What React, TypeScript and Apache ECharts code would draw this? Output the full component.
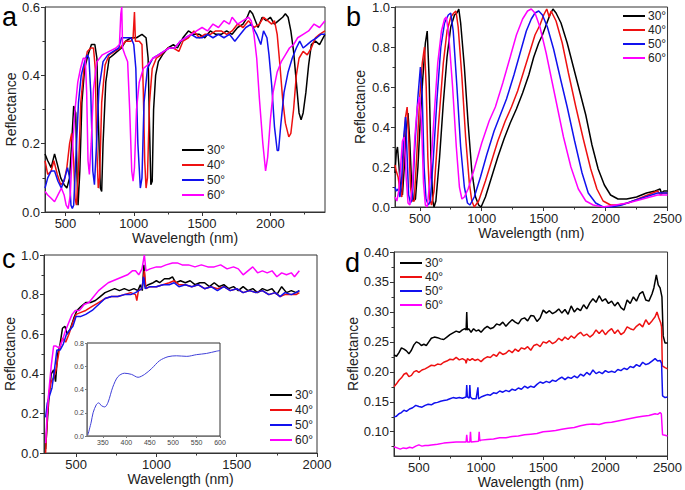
import React, { useEffect, useRef } from "react";
import * as echarts from "echarts";

const NAMES = ["30°", "40°", "50°", "60°"];
const COLORS = ["#000000", "#ee1111", "#1111ee", "#ff00ff"];

// Panel a (x: wavelength nm, y: reflectance)
const a30 = [[350,0.17],[370,0.15],[395,0.13],[420,0.17],[440,0.14],[465,0.10],[490,0.08],[510,0.07],[530,0.10],[545,0.20],[560,0.31],[575,0.29],[585,0.10],[592,0.02],[605,0.12],[620,0.32],[640,0.42],[665,0.46],[690,0.49],[715,0.49],[730,0.45],[742,0.25],[755,0.07],[765,0.06],[775,0.2],[795,0.38],[820,0.45],[850,0.46],[880,0.47],[910,0.48],[940,0.50],[980,0.51],[1020,0.51],[1060,0.52],[1090,0.51],[1105,0.45],[1115,0.25],[1125,0.08],[1135,0.09],[1145,0.30],[1160,0.40],[1180,0.44],[1210,0.46],[1250,0.48],[1290,0.49],[1320,0.48],[1360,0.51],[1400,0.53],[1440,0.52],[1480,0.52],[1520,0.51],[1560,0.53],[1600,0.52],[1640,0.52],[1680,0.53],[1720,0.52],[1760,0.54],[1800,0.55],[1830,0.57],[1850,0.59],[1870,0.58],[1890,0.56],[1910,0.54],[1940,0.57],[1970,0.56],[2000,0.57],[2030,0.55],[2060,0.56],[2090,0.57],[2110,0.58],[2130,0.57],[2150,0.53],[2170,0.47],[2190,0.38],[2210,0.29],[2225,0.27],[2240,0.29],[2260,0.35],[2280,0.43],[2300,0.49],[2330,0.50],[2360,0.49],[2400,0.52]];
const a40 = [[350,0.15],[370,0.11],[395,0.12],[415,0.15],[440,0.11],[465,0.08],[490,0.09],[510,0.13],[530,0.20],[545,0.23],[560,0.15],[570,0.04],[580,0.02],[595,0.12],[612,0.32],[635,0.42],[660,0.47],[685,0.48],[705,0.48],[718,0.42],[728,0.2],[740,0.07],[750,0.1],[765,0.32],[790,0.43],[820,0.46],[860,0.47],[900,0.48],[940,0.50],[980,0.50],[995,0.51],[1005,0.585],[1012,0.50],[1040,0.50],[1060,0.49],[1070,0.35],[1080,0.15],[1090,0.07],[1100,0.10],[1115,0.32],[1135,0.42],[1165,0.45],[1200,0.46],[1250,0.48],[1290,0.48],[1330,0.47],[1360,0.50],[1400,0.51],[1440,0.53],[1480,0.51],[1520,0.52],[1560,0.52],[1600,0.53],[1640,0.53],[1680,0.52],[1720,0.53],[1760,0.55],[1800,0.54],[1840,0.56],[1880,0.54],[1920,0.55],[1950,0.57],[1980,0.56],[2010,0.55],[2030,0.56],[2050,0.52],[2070,0.43],[2090,0.33],[2110,0.26],[2135,0.22],[2150,0.23],[2170,0.30],[2190,0.40],[2210,0.45],[2240,0.47],[2270,0.46],[2300,0.48],[2330,0.51],[2360,0.52],[2400,0.53]];
const a50 = [[350,0.07],[370,0.10],[395,0.12],[420,0.12],[445,0.09],[470,0.07],[495,0.10],[515,0.13],[530,0.10],[540,0.02],[550,0.01],[560,0.02],[575,0.15],[595,0.32],[615,0.40],[640,0.44],[660,0.46],[672,0.45],[685,0.35],[700,0.12],[712,0.08],[725,0.18],[745,0.36],[775,0.44],[810,0.46],[850,0.47],[890,0.48],[910,0.51],[940,0.51],[980,0.51],[1000,0.49],[1015,0.42],[1030,0.2],[1048,0.07],[1060,0.10],[1075,0.32],[1100,0.42],[1140,0.45],[1180,0.46],[1220,0.47],[1260,0.48],[1300,0.48],[1340,0.50],[1380,0.51],[1420,0.52],[1460,0.51],[1500,0.51],[1540,0.52],[1580,0.51],[1620,0.52],[1660,0.51],[1700,0.52],[1740,0.50],[1780,0.52],[1820,0.54],[1860,0.55],[1900,0.52],[1930,0.49],[1950,0.53],[1975,0.51],[1990,0.46],[2010,0.37],[2030,0.25],[2050,0.18],[2060,0.18],[2075,0.25],[2100,0.35],[2130,0.41],[2160,0.45],[2190,0.48],[2215,0.50],[2240,0.48],[2270,0.49],[2300,0.50],[2340,0.51],[2370,0.52],[2400,0.52]];
const a60 = [[350,0.06],[370,0.05],[395,0.04],[420,0.03],[445,0.05],[470,0.07],[490,0.05],[505,0.02],[520,0.01],[535,0.05],[550,0.18],[570,0.30],[590,0.38],[610,0.42],[630,0.45],[645,0.45],[655,0.35],[665,0.15],[675,0.11],[688,0.2],[705,0.36],[730,0.44],[770,0.46],[820,0.47],[870,0.48],[895,0.49],[905,0.58],[912,0.60],[918,0.48],[935,0.46],[955,0.44],[970,0.30],[985,0.12],[995,0.09],[1005,0.13],[1020,0.30],[1040,0.38],[1070,0.42],[1100,0.43],[1140,0.45],[1180,0.46],[1220,0.47],[1260,0.48],[1300,0.48],[1340,0.50],[1380,0.51],[1420,0.52],[1460,0.53],[1500,0.54],[1540,0.53],[1580,0.55],[1620,0.54],[1660,0.56],[1700,0.55],[1720,0.57],[1760,0.55],[1800,0.56],[1840,0.57],[1860,0.56],[1880,0.52],[1900,0.45],[1920,0.33],[1945,0.20],[1965,0.12],[1980,0.16],[2000,0.27],[2020,0.35],[2050,0.41],[2080,0.44],[2110,0.46],[2140,0.48],[2170,0.49],[2200,0.51],[2240,0.52],[2280,0.53],[2320,0.55],[2360,0.54],[2400,0.56]];

// Panel b
const b30 = [[300,0.17],[310,0.27],[320,0.30],[330,0.22],[345,0.10],[360,0.06],[375,0.2],[390,0.38],[405,0.47],[420,0.32],[435,0.1],[450,0.03],[465,0.04],[485,0.2],[505,0.45],[525,0.65],[545,0.82],[560,0.88],[575,0.65],[590,0.25],[605,0.03],[615,0.0],[630,0.03],[660,0.25],[690,0.52],[720,0.75],[750,0.9],[780,0.96],[800,0.97],[815,0.99],[830,0.92],[860,0.7],[890,0.42],[920,0.18],[950,0.05],[975,0.01],[995,0.0],[1030,0.05],[1080,0.15],[1130,0.25],[1180,0.34],[1230,0.42],[1280,0.49],[1330,0.57],[1380,0.66],[1420,0.75],[1460,0.82],[1490,0.86],[1520,0.91],[1550,0.96],[1575,0.99],[1600,0.97],[1640,0.92],[1690,0.82],[1740,0.70],[1790,0.58],[1840,0.46],[1890,0.31],[1940,0.19],[1990,0.11],[2040,0.06],[2100,0.04],[2170,0.04],[2250,0.05],[2330,0.07],[2400,0.08],[2440,0.09],[2450,0.07],[2470,0.08],[2500,0.08]];
const b40 = [[300,0.21],[310,0.18],[325,0.15],[340,0.08],[355,0.05],[370,0.3],[385,0.45],[398,0.50],[410,0.35],[425,0.1],[440,0.03],[455,0.03],[475,0.25],[500,0.55],[520,0.72],[538,0.80],[552,0.6],[565,0.25],[580,0.04],[595,0.01],[615,0.08],[650,0.4],[690,0.72],[720,0.88],[750,0.95],[775,0.97],[792,0.98],[810,0.9],[840,0.65],[870,0.35],[900,0.12],[920,0.03],[940,0.0],[975,0.03],[1030,0.13],[1080,0.23],[1130,0.33],[1190,0.43],[1240,0.50],[1290,0.58],[1340,0.68],[1390,0.78],[1430,0.86],[1470,0.91],[1500,0.96],[1525,0.99],[1545,0.95],[1560,0.98],[1600,0.93],[1650,0.82],[1700,0.67],[1760,0.5],[1820,0.34],[1880,0.19],[1930,0.09],[1980,0.03],[2040,0.01],[2100,0.01],[2180,0.02],[2260,0.04],[2340,0.06],[2420,0.08],[2445,0.06],[2460,0.07],[2500,0.07]];
const b50 = [[300,0.10],[310,0.08],[325,0.09],[340,0.05],[355,0.15],[370,0.35],[385,0.45],[395,0.3],[410,0.06],[425,0.02],[440,0.04],[460,0.3],[485,0.55],[505,0.70],[520,0.55],[535,0.2],[550,0.04],[570,0.01],[585,0.03],[610,0.25],[640,0.55],[670,0.8],[700,0.92],[730,0.96],[750,0.97],[770,0.88],[800,0.6],[830,0.3],[860,0.1],[885,0.02],[905,0.01],[940,0.05],[990,0.15],[1040,0.26],[1100,0.38],[1150,0.46],[1200,0.54],[1260,0.66],[1310,0.77],[1360,0.88],[1400,0.94],[1430,0.97],[1460,0.98],[1490,0.96],[1530,0.9],[1580,0.79],[1640,0.63],[1690,0.5],[1750,0.33],[1810,0.17],[1860,0.07],[1920,0.02],[1980,0.0],[2050,0.0],[2130,0.01],[2220,0.03],[2320,0.05],[2420,0.07],[2500,0.07]];
const b60 = [[300,0.05],[315,0.03],[330,0.08],[345,0.2],[360,0.33],[375,0.35],[390,0.15],[405,0.02],[420,0.01],[440,0.1],[460,0.35],[480,0.5],[500,0.55],[515,0.4],[530,0.12],[545,0.01],[560,0.0],[585,0.15],[615,0.45],[645,0.72],[675,0.88],[700,0.94],[715,0.95],[735,0.85],[765,0.6],[795,0.3],[820,0.1],[840,0.04],[860,0.05],[890,0.09],[940,0.19],[1000,0.32],[1060,0.43],[1110,0.5],[1170,0.62],[1230,0.75],[1280,0.86],[1330,0.94],[1370,0.98],[1400,0.99],[1430,0.97],[1470,0.9],[1520,0.77],[1570,0.62],[1610,0.5],[1660,0.35],[1720,0.2],[1780,0.09],[1840,0.03],[1900,0.01],[1980,0.0],[2080,0.01],[2180,0.02],[2300,0.04],[2420,0.06],[2500,0.06]];

// Panel c
const c30 = [[310,0.02],[320,0.15],[330,0.27],[345,0.40],[360,0.42],[372,0.36],[385,0.50],[400,0.55],[415,0.63],[430,0.64],[445,0.60],[465,0.63],[485,0.68],[505,0.72],[530,0.74],[560,0.76],[590,0.76],[620,0.77],[650,0.79],[680,0.81],[710,0.82],[740,0.83],[770,0.82],[800,0.83],[830,0.82],[860,0.83],[885,0.82],[900,0.85],[912,0.82],[922,0.95],[930,0.84],[950,0.85],[980,0.86],[1000,0.87],[1020,0.86],[1050,0.88],[1080,0.88],[1100,0.89],[1120,0.86],[1150,0.87],[1180,0.86],[1210,0.87],[1240,0.85],[1270,0.86],[1300,0.86],[1330,0.84],[1360,0.86],[1390,0.84],[1420,0.85],[1450,0.83],[1480,0.84],[1510,0.82],[1540,0.84],[1570,0.82],[1600,0.83],[1630,0.81],[1660,0.83],[1690,0.82],[1720,0.83],[1750,0.80],[1780,0.84],[1810,0.81],[1840,0.82],[1870,0.81],[1890,0.82]];
const c40 = [[310,0.0],[320,0.18],[330,0.30],[345,0.36],[360,0.38],[375,0.42],[395,0.52],[415,0.58],[435,0.56],[455,0.60],[480,0.66],[500,0.70],[530,0.71],[560,0.72],[600,0.74],[640,0.76],[680,0.78],[720,0.79],[760,0.79],[800,0.80],[840,0.81],[870,0.80],[878,0.77],[888,0.82],[910,0.83],[925,0.92],[935,0.83],[960,0.84],[1000,0.84],[1040,0.85],[1080,0.86],[1110,0.87],[1140,0.85],[1180,0.85],[1220,0.84],[1260,0.85],[1300,0.83],[1340,0.84],[1380,0.83],[1420,0.84],[1460,0.82],[1500,0.83],[1540,0.81],[1580,0.82],[1620,0.81],[1660,0.82],[1700,0.80],[1740,0.81],[1770,0.79],[1800,0.80],[1840,0.80],[1870,0.80],[1890,0.81]];
const c50 = [[310,0.18],[320,0.25],[335,0.29],[350,0.33],[365,0.42],[380,0.52],[400,0.52],[420,0.55],[440,0.60],[460,0.62],[480,0.64],[500,0.69],[530,0.69],[560,0.70],[600,0.72],[640,0.75],[680,0.78],[720,0.79],[760,0.79],[800,0.80],[840,0.80],[870,0.81],[890,0.82],[910,0.83],[920,0.89],[930,0.83],[960,0.84],[1000,0.84],[1040,0.85],[1080,0.85],[1110,0.86],[1140,0.84],[1180,0.85],[1220,0.84],[1260,0.85],[1300,0.83],[1340,0.84],[1380,0.82],[1420,0.84],[1460,0.82],[1500,0.83],[1540,0.81],[1580,0.82],[1620,0.81],[1660,0.82],[1700,0.80],[1740,0.81],[1770,0.79],[1800,0.81],[1840,0.80],[1870,0.81],[1890,0.82]];
const c60 = [[310,0.05],[320,0.20],[330,0.31],[345,0.44],[360,0.54],[375,0.54],[395,0.53],[415,0.57],[435,0.62],[455,0.66],[475,0.70],[495,0.72],[520,0.72],[550,0.75],[580,0.76],[610,0.79],[640,0.82],[670,0.84],[700,0.86],[730,0.87],[760,0.88],[790,0.89],[820,0.90],[850,0.92],[870,0.92],[890,0.90],[910,0.93],[925,1.0],[935,0.92],[960,0.93],[1000,0.94],[1030,0.94],[1060,0.95],[1100,0.96],[1130,0.96],[1160,0.95],[1200,0.95],[1240,0.94],[1280,0.95],[1320,0.94],[1360,0.94],[1400,0.95],[1440,0.93],[1480,0.94],[1510,0.93],[1540,0.90],[1570,0.92],[1600,0.94],[1630,0.91],[1660,0.92],[1690,0.91],[1720,0.92],[1750,0.89],[1780,0.91],[1810,0.90],[1840,0.91],[1860,0.89],[1890,0.92]];

// Inset of panel c
const inset = [[318,0.01],[325,0.12],[329,0.20],[336,0.27],[341,0.285],[347,0.26],[354,0.25],[361,0.29],[371,0.42],[382,0.51],[396,0.54],[411,0.53],[425,0.505],[439,0.53],[454,0.58],[471,0.648],[489,0.682],[507,0.69],[529,0.685],[550,0.70],[571,0.71],[593,0.73],[600,0.735]];

// Panel d
const d30 = [[300,0.228],[320,0.226],[340,0.232],[360,0.24],[380,0.238],[400,0.235],[420,0.23],[440,0.236],[460,0.245],[480,0.25],[500,0.248],[520,0.244],[540,0.246],[560,0.244],[580,0.25],[600,0.256],[625,0.258],[650,0.257],[675,0.255],[700,0.254],[725,0.258],[750,0.262],[775,0.265],[800,0.268],[825,0.266],[850,0.27],[870,0.272],[880,0.27],[885,0.30],[890,0.27],[900,0.272],[920,0.266],[940,0.272],[960,0.268],[980,0.27],[1000,0.266],[1025,0.272],[1050,0.276],[1075,0.272],[1100,0.274],[1125,0.28],[1150,0.278],[1175,0.283],[1200,0.276],[1225,0.282],[1250,0.287],[1275,0.283],[1300,0.28],[1325,0.288],[1350,0.29],[1375,0.285],[1400,0.294],[1425,0.293],[1450,0.284],[1475,0.29],[1500,0.303],[1525,0.298],[1550,0.302],[1575,0.297],[1600,0.3],[1625,0.305],[1650,0.298],[1675,0.304],[1700,0.296],[1725,0.31],[1750,0.3],[1775,0.306],[1800,0.302],[1825,0.312],[1850,0.305],[1875,0.315],[1900,0.322],[1925,0.316],[1950,0.327],[1975,0.318],[2000,0.322],[2025,0.314],[2050,0.318],[2075,0.31],[2100,0.316],[2125,0.307],[2150,0.303],[2175,0.32],[2200,0.314],[2225,0.325],[2250,0.318],[2275,0.33],[2300,0.334],[2325,0.32],[2350,0.318],[2375,0.33],[2390,0.34],[2410,0.362],[2425,0.345],[2440,0.34],[2455,0.325],[2465,0.26],[2480,0.248],[2500,0.248]];
const d40 = [[300,0.175],[320,0.18],[340,0.186],[360,0.19],[380,0.196],[400,0.198],[420,0.192],[440,0.194],[460,0.2],[480,0.202],[500,0.199],[525,0.203],[550,0.205],[575,0.208],[600,0.211],[625,0.21],[650,0.213],[675,0.212],[700,0.216],[725,0.218],[750,0.221],[775,0.22],[800,0.224],[825,0.22],[850,0.222],[875,0.219],[880,0.214],[890,0.222],[910,0.219],[930,0.222],[950,0.219],[975,0.221],[1000,0.217],[1025,0.222],[1050,0.225],[1075,0.224],[1100,0.229],[1125,0.226],[1150,0.233],[1175,0.229],[1200,0.231],[1225,0.236],[1250,0.232],[1275,0.238],[1300,0.234],[1325,0.24],[1350,0.238],[1375,0.242],[1400,0.236],[1425,0.244],[1450,0.246],[1475,0.242],[1500,0.25],[1525,0.248],[1550,0.252],[1575,0.247],[1600,0.25],[1625,0.256],[1650,0.252],[1675,0.258],[1700,0.254],[1725,0.26],[1750,0.256],[1775,0.262],[1800,0.266],[1825,0.26],[1850,0.263],[1875,0.258],[1900,0.262],[1925,0.27],[1950,0.264],[1975,0.27],[2000,0.262],[2025,0.268],[2050,0.272],[2075,0.264],[2100,0.27],[2125,0.262],[2150,0.266],[2175,0.275],[2200,0.272],[2225,0.27],[2250,0.276],[2275,0.28],[2300,0.275],[2325,0.287],[2350,0.279],[2375,0.285],[2400,0.292],[2415,0.3],[2430,0.29],[2445,0.282],[2452,0.275],[2458,0.21],[2480,0.207],[2500,0.205]];
const d50 = [[300,0.125],[320,0.126],[340,0.13],[360,0.132],[380,0.136],[400,0.134],[425,0.138],[450,0.14],[475,0.144],[500,0.142],[525,0.141],[550,0.144],[575,0.146],[600,0.145],[625,0.148],[650,0.149],[675,0.151],[700,0.152],[725,0.153],[750,0.155],[775,0.157],[800,0.156],[825,0.157],[850,0.156],[880,0.158],[885,0.178],[890,0.158],[905,0.156],[910,0.178],[915,0.158],[930,0.155],[960,0.155],[975,0.174],[980,0.155],[1000,0.158],[1025,0.16],[1050,0.162],[1075,0.161],[1100,0.165],[1125,0.164],[1150,0.168],[1175,0.166],[1200,0.169],[1225,0.167],[1250,0.171],[1275,0.169],[1300,0.173],[1325,0.171],[1350,0.176],[1375,0.173],[1400,0.176],[1425,0.174],[1450,0.179],[1475,0.183],[1500,0.181],[1525,0.184],[1550,0.182],[1575,0.186],[1600,0.184],[1625,0.188],[1650,0.191],[1675,0.187],[1700,0.191],[1725,0.189],[1750,0.193],[1775,0.19],[1800,0.196],[1825,0.193],[1850,0.199],[1875,0.195],[1900,0.203],[1925,0.197],[1950,0.2],[1975,0.197],[2000,0.202],[2025,0.199],[2050,0.201],[2075,0.199],[2100,0.204],[2125,0.202],[2150,0.206],[2175,0.204],[2200,0.209],[2225,0.207],[2250,0.212],[2275,0.209],[2300,0.216],[2325,0.212],[2350,0.214],[2375,0.218],[2400,0.222],[2420,0.218],[2440,0.219],[2452,0.214],[2460,0.16],[2480,0.157],[2500,0.158]];
const d60 = [[300,0.075],[325,0.073],[350,0.071],[375,0.073],[400,0.072],[425,0.074],[450,0.073],[475,0.076],[500,0.078],[525,0.076],[550,0.077],[575,0.077],[600,0.078],[650,0.079],[700,0.081],[750,0.082],[800,0.083],[880,0.083],[885,0.095],[890,0.083],[910,0.083],[915,0.1],[920,0.083],[980,0.084],[985,0.1],[990,0.085],[1000,0.086],[1050,0.087],[1100,0.088],[1150,0.09],[1200,0.09],[1250,0.092],[1300,0.093],[1350,0.095],[1400,0.096],[1450,0.097],[1500,0.1],[1550,0.101],[1600,0.102],[1650,0.104],[1700,0.106],[1750,0.107],[1800,0.11],[1850,0.112],[1900,0.113],[1950,0.112],[2000,0.115],[2050,0.116],[2100,0.118],[2150,0.12],[2200,0.122],[2250,0.124],[2300,0.126],[2350,0.127],[2400,0.13],[2420,0.129],[2440,0.132],[2450,0.13],[2460,0.095],[2480,0.094],[2500,0.093]];

// Tick values
const xTicksA = [500, 1000, 1500, 2000];
const xMinorA = [750, 1250, 1750, 2250];
const xTicksBD = [500, 1000, 1500, 2000, 2500];
const xMinorBD = [750, 1250, 1750, 2250];
const xTicksC = [500, 1000, 1500, 2000];
const xMinorC = [750, 1250, 1750];
const yTicksA = [0, 0.2, 0.4, 0.6];
const yMinorA = [0.1, 0.3, 0.5];
const yTicks01 = [0, 0.2, 0.4, 0.6, 0.8, 1.0];
const yMinor01 = [0.1, 0.3, 0.5, 0.7, 0.9];
const yTicksD = [0.1, 0.15, 0.2, 0.25, 0.3, 0.35, 0.4];
const yMinorD = [0.075, 0.125, 0.175, 0.225, 0.275, 0.325, 0.375];
const xTicksInset = [350, 400, 450, 500, 550, 600];
const yInsetStep = 0.2;

const FONT = "'Liberation Sans', Arial, sans-serif";
const AX = "#333";

export default function App() {
  const ref = useRef<HTMLDivElement>(null);
  useEffect(() => {
    if (!ref.current) return;
    const chart = echarts.init(ref.current, undefined, { renderer: "svg" });

    const grids = [
      { left: 45, top: 7, width: 280, height: 205 },
      { left: 395, top: 7, width: 273, height: 200 },
      { left: 44, top: 255, width: 273, height: 198 },
      { left: 394, top: 252, width: 276, height: 204 },
      { left: 87, top: 343, width: 133, height: 93 },
    ].map((g) => ({ ...g, show: true, borderColor: AX, borderWidth: 1 }));

    const xAxes: any[] = [];
    const yAxes: any[] = [];

    const mainAxis = (dir: "x" | "y", gi: number, min: number, max: number, ticks: number[], fmt: (v: number) => string, name: string, nameGap: number) => ({
      type: "value",
      gridIndex: gi,
      min,
      max,
      position: dir === "x" ? "bottom" : "left",
      name,
      nameLocation: "middle",
      nameGap,
      nameTextStyle: { fontFamily: FONT, fontSize: 14, color: "#222" },
      axisLine: { show: true, onZero: false, lineStyle: { color: AX, width: 1 } },
      axisTick: { show: true, inside: false, length: 4, customValues: ticks, lineStyle: { color: AX } },
      axisLabel: {
        show: true,
        customValues: ticks,
        formatter: (v: number) => fmt(v),
        fontFamily: FONT,
        fontSize: 13,
        color: "#222",
        margin: 5,
      },
      splitLine: { show: false },
    });
    const minorAxis = (dir: "x" | "y", gi: number, min: number, max: number, ticks: number[]) => ({
      type: "value",
      gridIndex: gi,
      min,
      max,
      position: dir === "x" ? "bottom" : "left",
      axisLine: { show: false, onZero: false },
      axisTick: { show: true, inside: false, length: 2.5, customValues: ticks, lineStyle: { color: AX } },
      axisLabel: { show: false },
      splitLine: { show: false },
    });

    const f0 = (v: number) => String(Math.round(v));
    const f1 = (v: number) => v.toFixed(1);
    const f2 = (v: number) => v.toFixed(2);

    // x axes: 0..3 main, 4 inset, 5..8 minor ticks
    xAxes.push(mainAxis("x", 0, 350, 2400, xTicksA, f0, "Wavelength (nm)", 16));
    xAxes.push(mainAxis("x", 1, 300, 2500, xTicksBD, f0, "Wavelength (nm)", 16));
    xAxes.push(mainAxis("x", 2, 300, 2000, xTicksC, f0, "Wavelength (nm)", 16));
    xAxes.push(mainAxis("x", 3, 300, 2500, xTicksBD, f0, "Wavelength (nm)", 16));
    xAxes.push({
      type: "value",
      gridIndex: 4,
      min: 316,
      max: 600,
      axisLine: { show: true, lineStyle: { color: "#777" } },
      axisTick: { show: true, length: 2, customValues: xTicksInset, lineStyle: { color: "#777" } },
      axisLabel: { customValues: xTicksInset, fontSize: 7, color: "#444", margin: 3, fontFamily: FONT },
      splitLine: { show: false },
    });
    xAxes.push(minorAxis("x", 0, 350, 2400, xMinorA));
    xAxes.push(minorAxis("x", 1, 300, 2500, xMinorBD));
    xAxes.push(minorAxis("x", 2, 300, 2000, xMinorC));
    xAxes.push(minorAxis("x", 3, 300, 2500, xMinorBD));

    yAxes.push(mainAxis("y", 0, 0, 0.6, yTicksA, f1, "Reflectance", 25));
    yAxes.push(mainAxis("y", 1, 0, 1, yTicks01, f1, "Reflectance", 28));
    yAxes.push(mainAxis("y", 2, 0, 1, yTicks01, f1, "Reflectance", 24));
    yAxes.push(mainAxis("y", 3, 0.0595, 0.4, yTicksD, f2, "Reflectance", 33));
    yAxes.push({
      type: "value",
      gridIndex: 4,
      min: 0,
      max: 0.8,
      interval: yInsetStep,
      axisLine: { show: true, lineStyle: { color: "#777" } },
      axisTick: { show: true, length: 2, lineStyle: { color: "#777" } },
      axisLabel: { show: true, fontSize: 7, color: "#444", margin: 3, fontFamily: FONT, formatter: (v: number) => f1(v) },
      splitLine: { show: false },
    });
    yAxes.push(minorAxis("y", 0, 0, 0.6, yMinorA));
    yAxes.push(minorAxis("y", 1, 0, 1, yMinor01));
    yAxes.push(minorAxis("y", 2, 0, 1, yMinor01));
    yAxes.push(minorAxis("y", 3, 0.0595, 0.4, yMinorD));

    const panels = [
      [a30, a40, a50, a60],
      [b30, b40, b50, b60],
      [c30, c40, c50, c60],
      [d30, d40, d50, d60],
    ];
    const series: any[] = [];
    panels.forEach((sets, pi) => {
      sets.forEach((data, si) => {
        series.push({
          type: "line",
          name: NAMES[si],
          xAxisIndex: pi,
          yAxisIndex: pi,
          data,
          showSymbol: false,
          symbol: "none",
          lineStyle: { color: COLORS[si], width: 1.5 },
          itemStyle: { color: COLORS[si] },
          z: 3 + si,
        });
      });
    });
    series.push({
      type: "line",
      name: "inset",
      xAxisIndex: 4,
      yAxisIndex: 4,
      data: inset,
      showSymbol: false,
      symbol: "none",
      smooth: 0.3,
      lineStyle: { color: "#4040d8", width: 1 },
      z: 10,
    });

    const legendBase = (left: number, top: number, gap: number) => ({
      data: NAMES,
      left,
      top,
      orient: "vertical",
      icon: "rect",
      itemWidth: 22,
      itemHeight: 2,
      itemGap: gap,
      selectedMode: false,
      padding: 0,
      textStyle: { fontFamily: FONT, fontSize: 12, color: "#222", padding: [0, 0, 0, -2], lineHeight: 14 },
    });

    const letters = [
      { t: "a", x: 2, y: 3 },
      { t: "b", x: 346, y: 3 },
      { t: "c", x: 2, y: 245 },
      { t: "d", x: 345, y: 249 },
    ];

    chart.setOption({
      animation: false,
      backgroundColor: "#ffffff",
      grid: grids,
      xAxis: xAxes,
      yAxis: yAxes,
      series,
      legend: [
        legendBase(182, 143, 1),
        legendBase(623, 9, 0),
        legendBase(270, 388, 1),
        legendBase(400, 256, 0),
      ],
      graphic: letters.map((l) => ({
        type: "text",
        left: l.x,
        top: l.y,
        style: { text: l.t, fontFamily: FONT, fontSize: 27, fill: "#000" },
        z: 20,
      })),
    });
    return () => chart.dispose();
  }, []);

  return (
    <div style={{ position: "fixed", left: 0, top: 0, width: 685, height: 490, background: "#fff" }}>
      <div ref={ref} style={{ width: 685, height: 490 }} />
    </div>
  );
}
